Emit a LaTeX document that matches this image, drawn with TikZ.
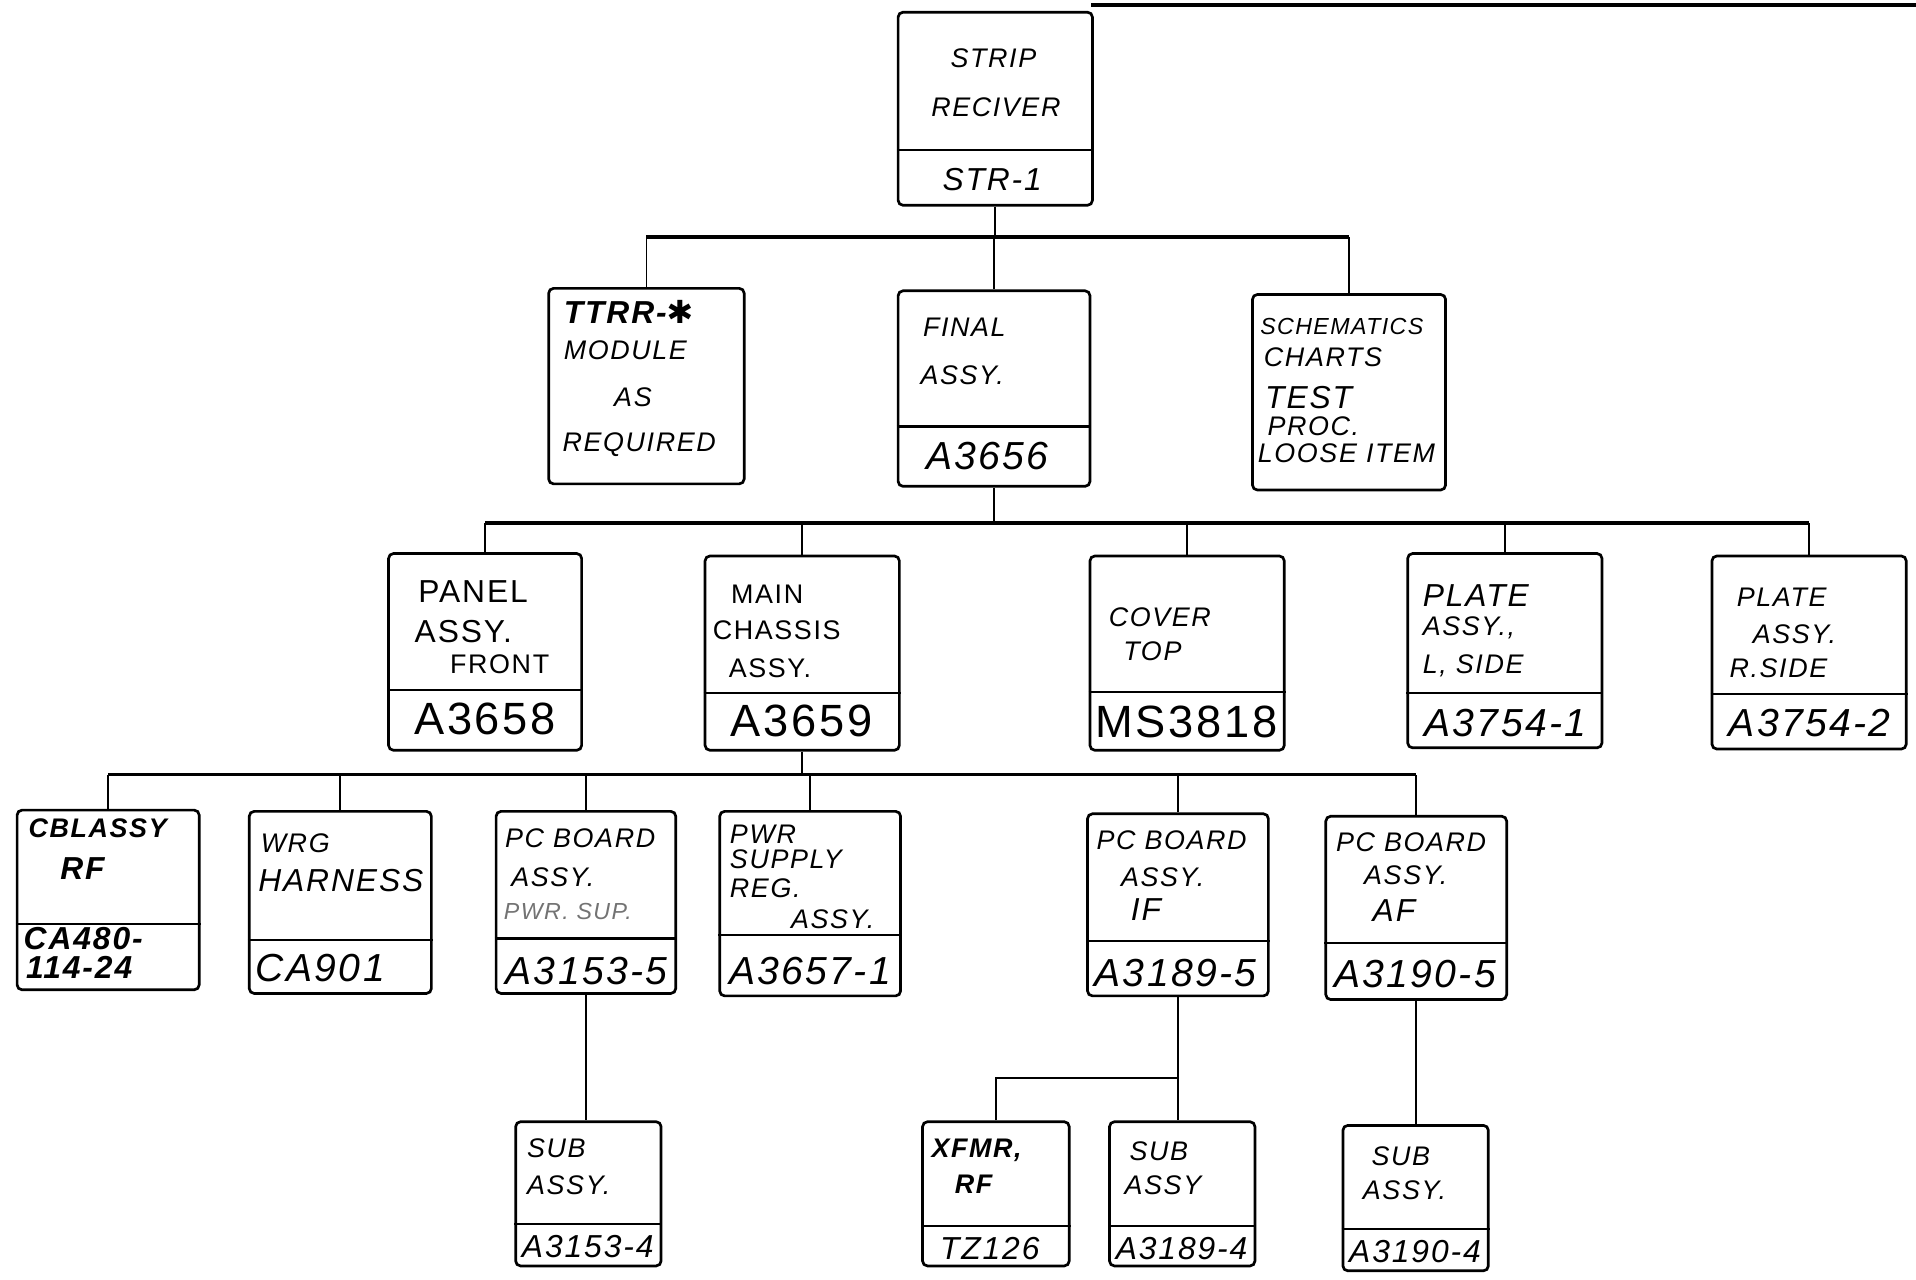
\documentclass[tikz,border=0pt]{standalone}
\usepackage{fontspec}
\setmainfont{Liberation Sans}[LetterSpace=6]
\newfontfamily\symfont{DejaVu Sans}
\usetikzlibrary{fit}
\tikzset{
  boxst/.style={draw, line width=1.1pt, rounded corners=2pt, inner sep=0pt},
  divst/.style={line width=0.9pt},
  conn/.style={line width=0.7pt},
  barst/.style={line width=1.3pt},
  tS/.style={font=\fontsize{9.5}{11}\selectfont\itshape, inner sep=0pt},
  tA/.style={font=\fontsize{11}{13}\selectfont\itshape, inner sep=0pt},
  tB/.style={font=\fontsize{13}{15}\selectfont\itshape, inner sep=0pt},
  nS/.style={font=\fontsize{13}{15}\selectfont\itshape, inner sep=0pt},
  nA/.style={font=\fontsize{16}{18}\selectfont\itshape, inner sep=0pt},
  nB/.style={font=\fontsize{18.5}{21}\selectfont, inner sep=0pt},
}
\newcommand\pbox[6]{%
  \node[boxst, fit={(#2,#3) (#4,#5)}] (#1) {};
  \draw[divst] (#1.west |- 0,#6) -- (#1.east |- 0,#6);}
\newcommand\tx[5]{\node[#2, anchor=west] (#1) at (#3,#4) {#5};}
\newcommand\tc[5]{\node[#2, anchor=center] (#1) at (#3,#4) {#5};}
\begin{document}
\begin{tikzpicture}[x=0.5pt,y=-0.5pt]
\useasboundingbox (0,0) rectangle (1568,1047);
\fill[white] (0,0) rectangle (1568,1047);
% cut header rule
\coordinate (hl) at (893,4);
\coordinate (hr) at (1568,4);
\draw[line width=1.6pt] (hl) -- (hr);

% ---------- level 1
\pbox{strip}{735}{10}{894}{168}{123}
\tc{strip1}{tA}{813}{48}{STRIP}
\tc{strip2}{tA}{815}{88}{RECIVER}
\tc{stripn}{nS}{812}{147}{STR-1}

% ---------- level 2
\node[boxst, fit={(449,236) (609,396)}] (ttrr) {};
\tx{ttrr1}{tB}{461}{255}{\bfseries TTRR-{\symfont ✱}}
\tx{ttrr2}{tA}{461}{287}{MODULE}
\tc{ttrr3}{tA}{518}{325}{AS}
\tx{ttrr4}{tA}{460}{364}{REQUIRED}

\pbox{final}{735}{238}{892}{398}{349}
\tx{final1}{tA}{755}{268}{FINAL}
\tx{final2}{tA}{753}{307}{ASSY.}
\tc{finaln}{nA}{808}{373}{A3656}

\node[boxst, fit={(1025,241) (1183,401)}] (sch) {};
\tx{sch1}{tS}{1031}{267}{SCHEMATICS}
\tx{sch2}{tA}{1034}{292}{CHARTS}
\tx{sch3}{tB}{1035}{325}{TEST}
\tx{sch4}{tA}{1037}{349}{PROC.}
\tx{sch5}{tA}{1029}{371}{LOOSE ITEM}

\coordinate (bar1) at (0,194);
\draw[conn] (strip.south) -- (strip.south |- bar1);
\draw[barst] (ttrr.north |- bar1) -- (sch.north |- bar1);
\draw[conn] (ttrr.north) -- (ttrr.north |- bar1);
\draw[conn] (final.north) -- (final.north |- bar1);
\draw[conn] (sch.north) -- (sch.north |- bar1);

% ---------- level 3
\pbox{panel}{318}{453}{476}{614}{565}
\tx{panel1}{tB}{342}{484}{\upshape PANEL}
\tx{panel2}{tB}{339}{517}{\upshape ASSY.}
\tx{panel3}{tA}{368}{544}{\upshape FRONT}
\tc{paneln}{nB}{397}{588}{A3658}

\pbox{main}{577}{455}{736}{614}{567}
\tx{main1}{tA}{598}{486}{\upshape MAIN}
\tx{main2}{tA}{583}{516}{\upshape CHASSIS}
\tx{main3}{tA}{596}{547}{\upshape ASSY.}
\tc{mainn}{nB}{656}{590}{A3659}

\pbox{cover}{892}{455}{1051}{614}{566}
\tx{cover1}{tA}{907}{505}{COVER}
\tx{cover2}{tA}{919}{533}{TOP}
\tc{covern}{nB}{971}{591}{MS3818}

\pbox{platel}{1152}{453}{1311}{612}{567}
\tx{platel1}{tB}{1164}{487}{PLATE}
\tx{platel2}{tA}{1164}{514}{ASSY.,}
\tx{platel3}{tA}{1164}{545}{L, SIDE}
\tc{plateln}{nA}{1232}{592}{A3754-1}

\pbox{plater}{1401}{455}{1560}{613}{568}
\tx{plater1}{tA}{1421}{489}{PLATE}
\tx{plater2}{tA}{1434}{519}{ASSY.}
\tx{plater3}{tA}{1415}{547}{R.SIDE}
\tc{platern}{nA}{1481}{592}{A3754-2}

\coordinate (bar2) at (0,428);
\draw[conn] (final.south) -- (final.south |- bar2);
\draw[barst] (panel.north |- bar2) -- (plater.north |- bar2);
\foreach \n in {panel,main,cover,platel,plater}
  \draw[conn] (\n.north) -- (\n.north |- bar2);

% ---------- level 4
\pbox{cbl}{14}{663}{163}{810}{756}
\tx{cbl1}{tA}{23}{678}{\bfseries CBLASSY}
\tx{cbl2}{tB}{49}{711}{\bfseries RF}
\tx{cbl3}{nS}{19}{768}{\bfseries CA480-}
\tx{cbl4}{nS}{21}{792}{\bfseries 114-24}

\pbox{wrg}{204}{664}{353}{813}{769}
\tx{wrg1}{tA}{213}{690}{WRG}
\tx{wrg2}{tB}{211}{721}{HARNESS}
\tx{wrgn}{nA}{209}{792}{CA901}

\pbox{pcp}{406}{664}{553}{813}{768}
\tx{pcp1}{tA}{413}{686}{PC BOARD}
\tx{pcp2}{tA}{418}{718}{ASSY.}
\tx{pcp3}{tS}{412}{746}{\color{black!55}PWR. SUP.}
\tc{pcpn}{nA}{480}{795}{A3153-5}

\pbox{pws}{589}{664}{737}{815}{765}
\tx{pws1}{tA}{597}{683}{PWR}
\tx{pws2}{tA}{597}{703}{SUPPLY}
\tx{pws3}{tA}{597}{727}{REG.}
\tx{pws4}{tA}{647}{752}{ASSY.}
\tc{pwsn}{nA}{663}{795}{A3657-1}

\pbox{pcif}{890}{666}{1038}{815}{770}
\tx{pcif1}{tA}{897}{688}{PC BOARD}
\tx{pcif2}{tA}{917}{718}{ASSY.}
\tx{pcif3}{tB}{925}{744}{IF}
\tc{pcifn}{nA}{962}{796}{A3189-5}

\pbox{pcaf}{1085}{668}{1233}{818}{772}
\tx{pcaf1}{tA}{1093}{689}{PC BOARD}
\tx{pcaf2}{tA}{1116}{716}{ASSY.}
\tx{pcaf3}{tB}{1123}{745}{AF}
\tc{pcafn}{nA}{1158}{797}{A3190-5}

\coordinate (bar3) at (0,634);
\draw[conn] (main.south) -- (main.south |- bar3);
\draw[barst] (cbl.north |- bar3) -- (pcaf.north |- bar3);
\foreach \n in {cbl,wrg,pcp,pws,pcif,pcaf}
  \draw[conn] (\n.north) -- (\n.north |- bar3);

% ---------- level 5
\pbox{suba}{422}{918}{541}{1036}{1002}
\tx{suba1}{tA}{431}{940}{SUB}
\tx{suba2}{tA}{431}{970}{ASSY.}
\tc{suban}{nS}{481}{1020}{A3153-4}

\pbox{xfmr}{755}{918}{875}{1036}{1003}
\tx{xfmr1}{tA}{762}{941}{\bfseries XFMR,}
\tx{xfmr2}{tA}{781}{969}{\bfseries RF}
\tc{xfmrn}{nS}{810}{1022}{TZ126}

\pbox{subb}{908}{918}{1027}{1036}{1003}
\tx{subb1}{tA}{924}{942}{SUB}
\tx{subb2}{tA}{920}{970}{ASSY}
\tc{subbn}{nS}{967}{1022}{A3189-4}

\pbox{subc}{1099}{921}{1218}{1040}{1006}
\tx{subc1}{tA}{1122}{946}{SUB}
\tx{subc2}{tA}{1115}{974}{ASSY.}
\tc{subcn}{nS}{1158}{1024}{A3190-4}

\draw[line width=1pt] (pcp.south) -- (pcp.south |- suba.north);
\draw[line width=1pt] (pcif.south) -- (pcif.south |- subb.north);
\coordinate (xj) at (0,882);
\draw[conn] (xfmr.north) -- (xfmr.north |- xj) -- (pcif.south |- xj);
\draw[line width=1pt] (pcaf.south) -- (pcaf.south |- subc.north);
\end{tikzpicture}
\end{document}
